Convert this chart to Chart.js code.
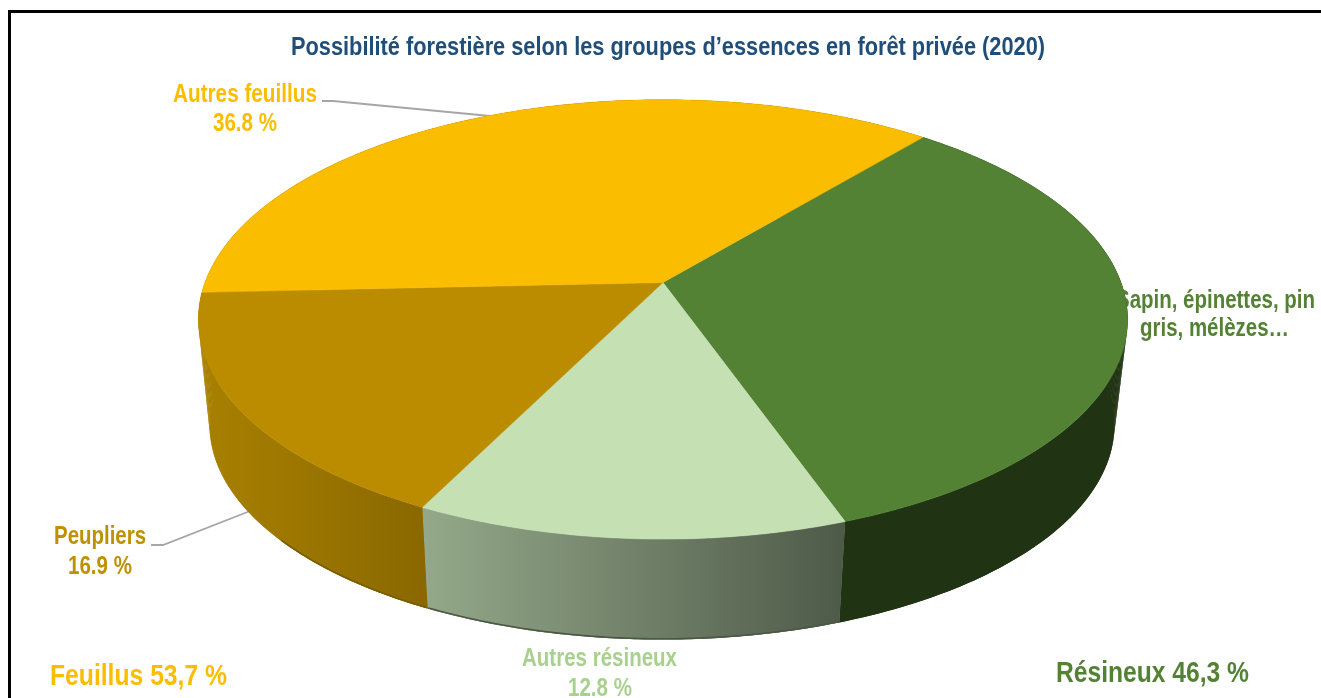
<!DOCTYPE html>
<html lang="fr">
<head>
<meta charset="utf-8">
<title>Possibilité forestière</title>
<script src="https://cdn.jsdelivr.net/npm/chart.js@4"></script>
<style>
  html, body { margin: 0; padding: 0; background: #fff; overflow: hidden; }
  #frame { position: absolute; left: 8px; top: 10px; width: 1400px; height: 800px; border: 3px solid #000; box-sizing: border-box; }
  #pie { position: absolute; left: 0; top: 0; }
</style>
</head>
<body>
<div id="frame"></div>
<canvas id="pie" width="1321" height="698"></canvas>
<script>
const titleText = "Possibilité forestière selon les groupes d’essences en forêt privée (2020)";
const categories = ["Sapin, épinettes, pin gris, mélèzes…", "Autres résineux", "Peupliers", "Autres feuillus"];
const shares = [33.5, 12.8, 16.9, 36.8];
const topColors = ["#548235", "#c5e0b3", "#bb8c00", "#fbbd00"];
const groupLabels = ["Feuillus 53,7 %", "Résineux 46,3 %"];

const FONT = '"Liberation Sans", Arial, sans-serif';

// perspective view of the disc: top rim and the rim below it
const topRim = { cx: 663, cy: 282.5, ax: 458, ay: 213.5, k: 0.168 };
const lowRim = { cx: 662, cy: 389, ax: 446, ay: 208.5, k: 0.168 };

function project(rim, angle) {
  const x = Math.cos(angle), y = Math.sin(angle);
  const w = 1 - rim.k * y;
  return [rim.cx + rim.ax * x / w, rim.cy + rim.ay * y / w];
}

// [text, center x, baseline y, size, colour, width] - no narrow font here so width squeezes it
const texts = [
  [titleText, 668, 55, 26, "#1f4e79", 754],
  [categories[3], 245, 102, 25, "#fbbd00", 144],
  [shares[3].toFixed(1) + " %", 245, 131, 25, "#fbbd00", 64],
  [categories[2], 100, 544, 25, "#bf9000", 92],
  [shares[2].toFixed(1) + " %", 100, 574, 25, "#bf9000", 64],
  ["Sapin, épinettes, pin", 1215.5, 308, 25, "#548235", 199],
  ["gris, mélèzes…", 1214.5, 336, 25, "#548235", 149],
  [categories[1], 599.5, 666, 25, "#a9d18e", 155],
  [shares[1].toFixed(1) + " %", 600, 696, 25, "#a9d18e", 64],
  [groupLabels[0], 138.5, 685, 29, "#fbbd00", 177],
  [groupLabels[1], 1152.5, 682, 29, "#548235", 193]
];

const leaders = [
  [[322, 101], [333, 101], [490, 116]],
  [[151, 545], [163, 545], [250, 511]]
];

function wallStyle(ctx, i) {
  if (i === 1) {
    const g = ctx.createLinearGradient(420, 0, 845, 0);
    g.addColorStop(0, "#94a98a");
    g.addColorStop(0.5, "#72826a");
    g.addColorStop(1, "#4e5a48");
    return g;
  }
  if (i === 2 || i === 3) {
    const g = ctx.createLinearGradient(205, 0, 425, 0);
    g.addColorStop(0, "#a88000");
    g.addColorStop(1, "#8a6800");
    return g;
  }
  return "#203313";
}

const pie3d = {
  id: "pie3d",
  beforeDatasetsDraw(chart) {
    const ctx = chart.ctx;
    const arcs = chart.getDatasetMeta(0).data;
    const step = Math.PI / 180;

    ctx.save();
    ctx.textAlign = "center";
    ctx.textBaseline = "alphabetic";
    texts.forEach(t => {
      ctx.font = "bold " + t[3] + "px " + FONT;
      ctx.fillStyle = t[4];
      ctx.fillText(t[0], t[1], t[2], t[5]);
    });

    ctx.strokeStyle = "#a6a6a6";
    ctx.lineWidth = 1.8;
    leaders.forEach(l => {
      ctx.beginPath();
      l.forEach((p, i) => i ? ctx.lineTo(p[0], p[1]) : ctx.moveTo(p[0], p[1]));
      ctx.stroke();
    });

    // side wall: quads give the silhouette, the whole strip on top hides their seams
    arcs.forEach((arc, i) => {
      const style = wallStyle(ctx, i);
      ctx.fillStyle = style;
      for (let a = arc.startAngle; a < arc.endAngle; a += step) {
        const b = Math.min(a + step, arc.endAngle);
        const p = [project(topRim, a), project(topRim, b), project(lowRim, b), project(lowRim, a)];
        ctx.beginPath();
        p.forEach((q, n) => n ? ctx.lineTo(q[0], q[1]) : ctx.moveTo(q[0], q[1]));
        ctx.closePath();
        ctx.fill();
      }
      ctx.beginPath();
      const n = Math.ceil((arc.endAngle - arc.startAngle) / step);
      for (let j = 0; j <= n; j++) {
        const q = project(topRim, arc.startAngle + (arc.endAngle - arc.startAngle) * j / n);
        ctx.lineTo(q[0], q[1]);
      }
      for (let j = n; j >= 0; j--) {
        const q = project(lowRim, arc.startAngle + (arc.endAngle - arc.startAngle) * j / n);
        ctx.lineTo(q[0], q[1]);
      }
      ctx.closePath();
      ctx.fill();

      // darker lip along the bottom edge, front part only
      if (i === 1 || i === 2) {
        ctx.strokeStyle = i === 1 ? "#4c5745" : "#7a5c00";
        ctx.lineWidth = 1.6;
        ctx.beginPath();
        const end = Math.min(arc.endAngle, 140 * step);
        for (let a = arc.startAngle; a <= end; a += step / 2) {
          const q = project(lowRim, a);
          ctx.lineTo(q[0], q[1] - 0.8);
        }
        ctx.stroke();
      }
    });

    // top face
    arcs.forEach(arc => {
      ctx.fillStyle = arc.options.backgroundColor;
      ctx.strokeStyle = arc.options.backgroundColor;
      ctx.lineWidth = 0.5;
      ctx.beginPath();
      ctx.moveTo(topRim.cx, topRim.cy);
      const n = Math.ceil((arc.endAngle - arc.startAngle) / (Math.PI / 360));
      for (let j = 0; j <= n; j++) {
        const q = project(topRim, arc.startAngle + (arc.endAngle - arc.startAngle) * j / n);
        ctx.lineTo(q[0], q[1]);
      }
      ctx.closePath();
      ctx.fill();
      ctx.stroke();
    });
    ctx.restore();
    return false;
  }
};

new Chart(document.getElementById("pie"), {
  type: "pie",
  data: {
    labels: categories,
    datasets: [{ data: shares, backgroundColor: topColors, borderWidth: 0 }]
  },
  options: {
    responsive: false,
    animation: false,
    rotation: 39.85,
    plugins: {
      legend: { display: false },
      tooltip: { enabled: false }
    }
  },
  plugins: [pie3d]
});
</script>
</body>
</html>
